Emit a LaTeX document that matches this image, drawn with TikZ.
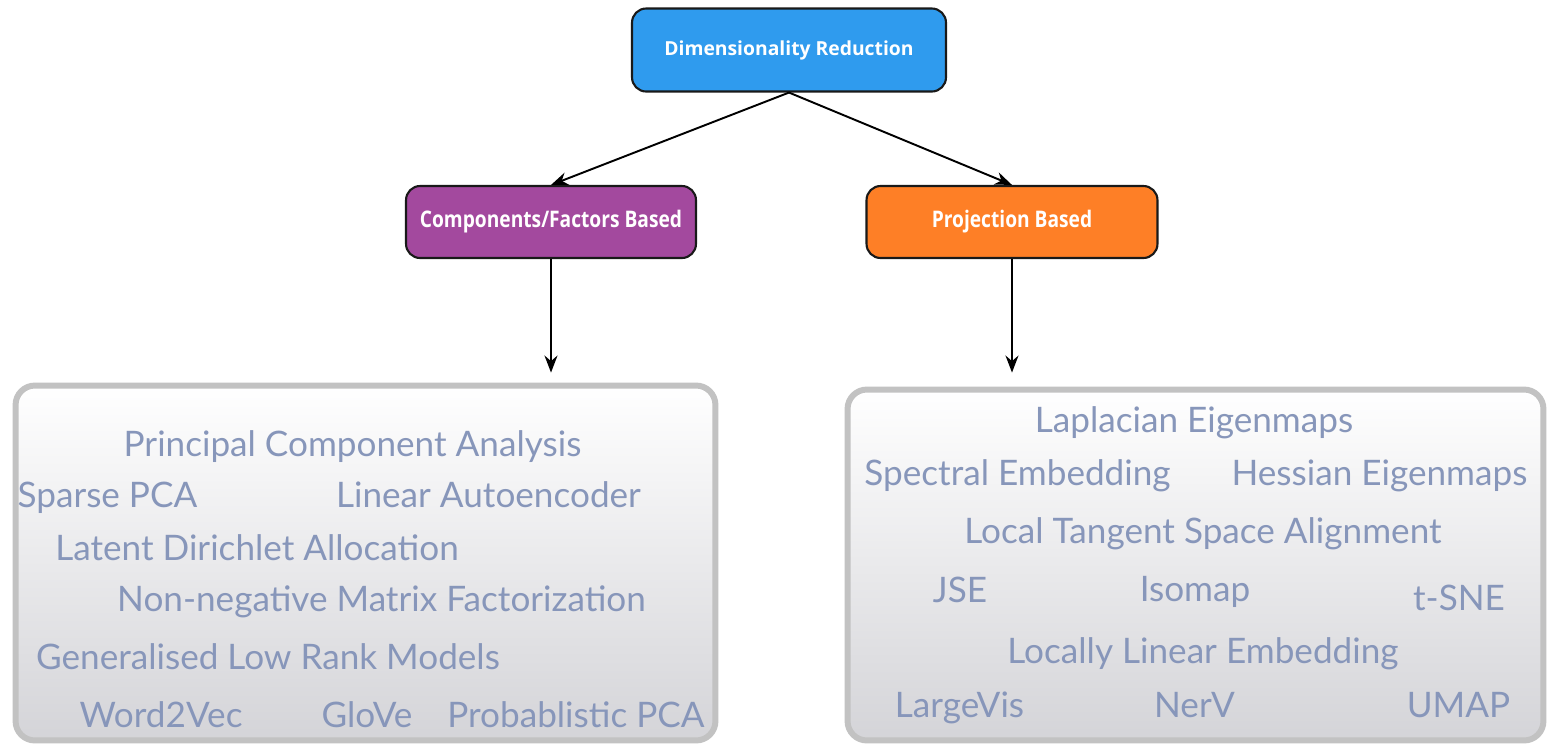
\documentclass[tikz,border=0pt]{standalone}
\usepackage{fontspec}
\setmainfont{Open Sans}
\newfontfamily\condfont[FakeStretch=0.84]{Open Sans}
\newfontfamily\itemfont{Lato}
\usetikzlibrary{arrows.meta,positioning,shapes}
\definecolor{drblue}{HTML}{2F9BEE}
\definecolor{cfpurple}{HTML}{A3499E}
\definecolor{pborange}{HTML}{FE7F26}
\definecolor{itemblue}{HTML}{8796BA}
\definecolor{panelgray}{HTML}{C2C2C2}
\definecolor{panelshade}{HTML}{D4D4D8}

\begin{document}
\begin{tikzpicture}[x=0.02cm, y=-0.02cm,
  head/.style={draw=black!90, line width=1.2pt, rounded corners=8pt, text=white, align=center},
  panel/.style={draw=panelgray, line width=3.4pt, rounded corners=11pt, top color=white, middle color=white, bottom color=panelshade},
  item/.style={anchor=base, text=itemblue, font=\itemfont\fontsize{20}{22}\selectfont, inner sep=0pt},
  arr/.style={-{Stealth[length=3.4mm, width=2.6mm]}, line width=1.1pt}]

  % Fixed bounding box
  \path[use as bounding box] (0,0) rectangle (1549,752);

  % Top and category boxes
  \node[head, fill=drblue, minimum width=6.28cm, minimum height=1.66cm, font=\bfseries\fontsize{11}{13}\selectfont] (dr) at (789,50) {Dimensionality Reduction};
  \node[head, fill=cfpurple, minimum width=5.8cm, minimum height=1.44cm, font=\condfont\bfseries\fontsize{13}{15}\selectfont] (cf) at (551,222) {Components/Factors Based};
  \node[head, fill=pborange, minimum width=5.82cm, minimum height=1.44cm, font=\condfont\bfseries\fontsize{13}{15}\selectfont] (pb) at (1012,222) {Projection Based};

  % Panels
  \node[panel, minimum width=14.0cm, minimum height=7.1cm] (cfbox) at (365.5,563) {};
  \node[panel, minimum width=13.92cm, minimum height=7.02cm] (pbbox) at (1195.5,565) {};

  % Arrows
  \draw[arr] (dr.south) -- (cf.north);
  \draw[arr] (dr.south) -- (pb.north);
  \draw[arr, shorten >=0.2cm] (cf.south) -- (cf.south |- cfbox.north);
  \draw[arr, shorten >=0.28cm] (pb.south) -- (pb.south |- pbbox.north);

  % Components/Factors methods
  \foreach \txt/\xx/\yy [count=\i] in {
    Principal Component Analysis/352.5/456,
    Sparse PCA/107.5/507,
    Linear Autoencoder/488.5/507,
    Latent Dirichlet Allocation/257/560,
    Non-negative Matrix Factorization/381.5/611,
    Generalised Low Rank Models/268/669,
    Word2Vec/161/727,
    GloVe/367/727,
    Probablistic PCA/576/727} {
    \node[item] (cfm\i) at (\xx,\yy) {\txt};
  }

  % Projection methods
  \foreach \txt/\xx/\yy [count=\i] in {
    Laplacian Eigenmaps/1194/432,
    Spectral Embedding/1017.5/485,
    Hessian Eigenmaps/1379.5/485,
    Local Tangent Space Alignment/1203/543,
    JSE/960/602,
    Isomap/1195/601,
    t-SNE/1459/610,
    Locally Linear Embedding/1203/663,
    LargeVis/959.5/717,
    NerV/1194.5/717,
    UMAP/1458.5/717} {
    \node[item] (pbm\i) at (\xx,\yy) {\txt};
  }

\end{tikzpicture}
\end{document}
